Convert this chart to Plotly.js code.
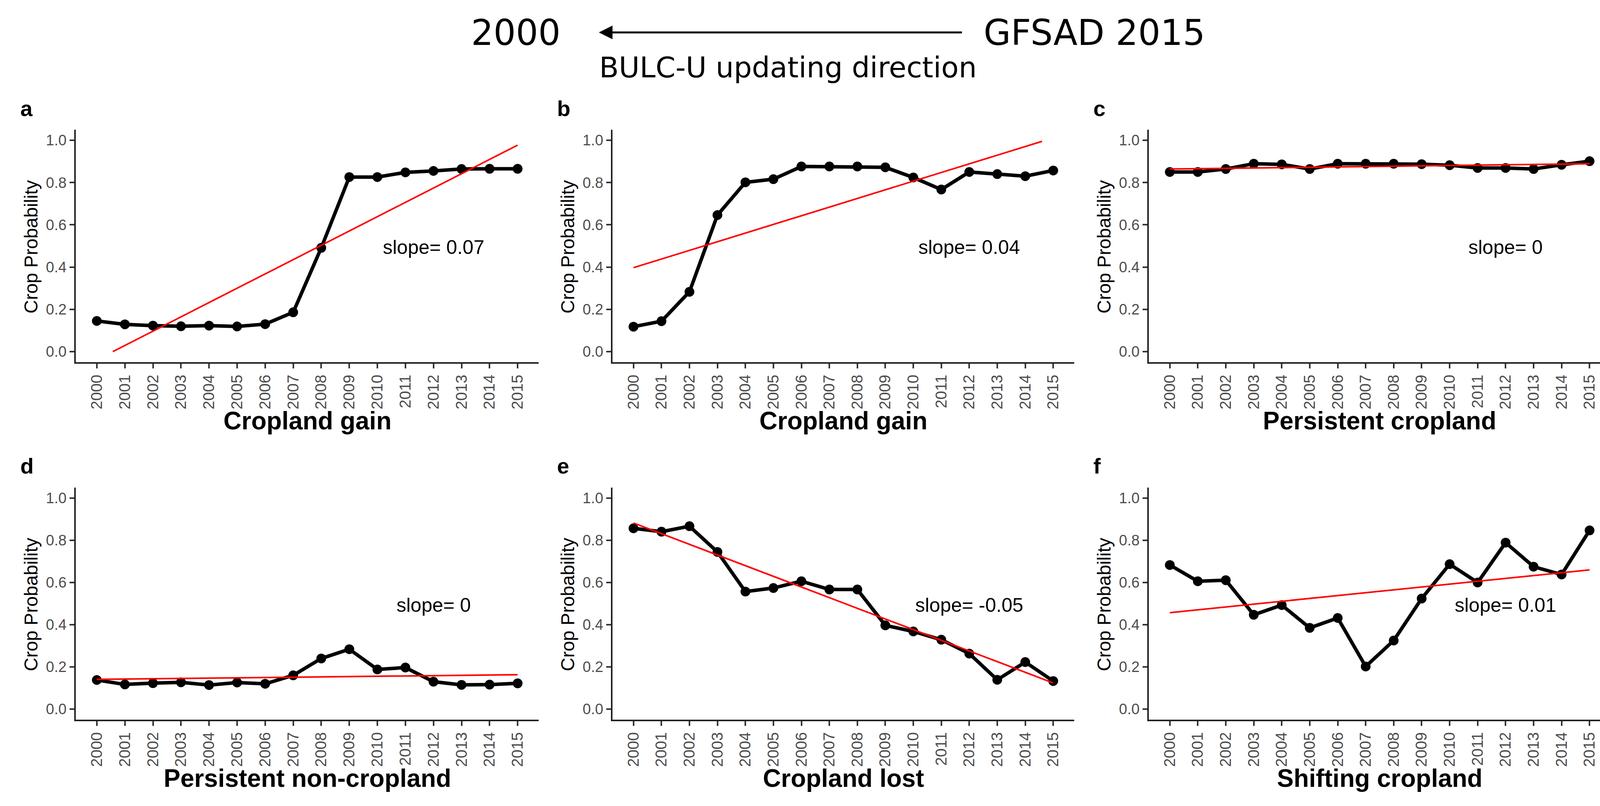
<!DOCTYPE html>
<html>
<head>
<meta charset="utf-8">
<script src="https://cdn.plot.ly/plotly-3.0.1.min.js"></script>
<style>html,body{margin:0;padding:0;background:#fff;}#chart{width:4161px;height:2063px;}</style>
</head>
<body>
<div id="chart"></div>
<script>
// ---------- data ----------
const years = [2000, 2001, 2002, 2003, 2004, 2005, 2006, 2007, 2008, 2009, 2010, 2011, 2012, 2013, 2014, 2015];
const yearLabels = ["2000","2001","2002","2003","2004","2005","2006","2007","2008","2009","2010","2011","2012","2013","2014","2015"];

const gainA      = [0.145, 0.129, 0.123, 0.120, 0.123, 0.119, 0.130, 0.186, 0.491, 0.826, 0.826, 0.848, 0.855, 0.864, 0.865, 0.865];
const gainB      = [0.118, 0.144, 0.283, 0.646, 0.801, 0.816, 0.876, 0.876, 0.876, 0.872, 0.824, 0.767, 0.850, 0.840, 0.830, 0.857];
const persistent = [0.850, 0.850, 0.864, 0.889, 0.886, 0.864, 0.889, 0.889, 0.889, 0.887, 0.882, 0.869, 0.869, 0.864, 0.884, 0.901];
const nonCrop    = [0.138, 0.117, 0.123, 0.127, 0.114, 0.126, 0.120, 0.160, 0.240, 0.284, 0.188, 0.197, 0.130, 0.115, 0.116, 0.122];
const lost       = [0.857, 0.841, 0.867, 0.745, 0.557, 0.574, 0.606, 0.567, 0.567, 0.397, 0.368, 0.329, 0.263, 0.139, 0.223, 0.133];
const shifting   = [0.683, 0.606, 0.611, 0.447, 0.493, 0.385, 0.432, 0.202, 0.325, 0.524, 0.687, 0.600, 0.789, 0.675, 0.638, 0.847];

// fitted trend line end points (as drawn, clipped to 0..1)
const fitAx = [2000.57, 2015];  const fitAy = [0.0, 0.977];
const fitBx = [2000, 2014.6];   const fitBy = [0.397, 0.995];
const fitCx = [2000, 2015];     const fitCy = [0.864, 0.889];
const fitDx = [2000, 2015];     const fitDy = [0.141, 0.163];
const fitEx = [2000, 2015];     const fitEy = [0.882, 0.124];
const fitFx = [2000, 2015];     const fitFy = [0.457, 0.660];

const panelLetters = ["a", "b", "c", "d", "e", "f"];
const panelTitles  = ["Cropland gain", "Cropland gain", "Persistent cropland", "Persistent non-cropland", "Cropland lost", "Shifting cropland"];
const slopeLabels  = ["slope= 0.07", "slope= 0.04", "slope= 0", "slope= 0", "slope= -0.05", "slope= 0.01"];
const yTickVals = [0, 0.2, 0.4, 0.6, 0.8, 1.0];
const yTickText = ["0.0", "0.2", "0.4", "0.6", "0.8", "1.0"];

// ---------- layout geometry (pixels) ----------
const W = 4161, H = 2063;
const cols = [[194, 1379], [1568, 2750], [2941, 4123]];
const rows = [[332, 927], [1248, 1842]];
const px = v => v / W;
const py = v => 1 - v / H;

const series = [gainA, gainB, persistent, nonCrop, lost, shifting];
const fitsX = [fitAx, fitBx, fitCx, fitDx, fitEx, fitFx];
const fitsY = [fitAy, fitBy, fitCy, fitDy, fitEy, fitFy];

const FONT = "Liberation Sans, Arial, Helvetica, sans-serif";
const traces = [];
const layout = {
  width: W, height: H,
  margin: {l: 0, r: 0, t: 0, b: 0},
  paper_bgcolor: "#ffffff", plot_bgcolor: "#ffffff",
  showlegend: false,
  font: {family: FONT},
  annotations: []
};

for (let i = 0; i < 6; i++) {
  const r = Math.floor(i / 3), c = i % 3;
  const suf = i === 0 ? "" : String(i + 1);
  const xa = "x" + suf, ya = "y" + suf;
  traces.push({
    x: years, y: series[i], xaxis: xa, yaxis: ya,
    type: "scatter", mode: "lines+markers",
    line: {color: "#000000", width: 9},
    marker: {color: "#000000", size: 25},
    hoverinfo: "skip"
  });
  traces.push({
    x: fitsX[i], y: fitsY[i], xaxis: xa, yaxis: ya,
    type: "scatter", mode: "lines",
    line: {color: "#FF0000", width: 4},
    hoverinfo: "skip"
  });
  layout["xaxis" + suf] = {
    domain: [px(cols[c][0]), px(cols[c][1])],
    anchor: ya, range: [1999.25, 2015.75],
    tickmode: "array", tickvals: years, ticktext: yearLabels, tickangle: -90,
    tickfont: {family: FONT, size: 40, color: "#4D4D4D"},
    ticks: "outside", ticklen: 12, tickwidth: 4, tickcolor: "#333333",
    showline: true, linewidth: 4, linecolor: "#222222",
    showgrid: false, zeroline: false, fixedrange: true
  };
  layout["yaxis" + suf] = {
    domain: [py(rows[r][1]), py(rows[r][0])],
    anchor: xa, range: [-0.05, 1.05],
    tickmode: "array", tickvals: yTickVals, ticktext: yTickText,
    tickfont: {family: FONT, size: 38, color: "#4D4D4D"},
    ticks: "outside", ticklen: 12, tickwidth: 4, tickcolor: "#333333",
    showline: true, linewidth: 4, linecolor: "#222222",
    showgrid: false, zeroline: false, fixedrange: true
  };
  // slope label
  layout.annotations.push({
    xref: xa, yref: ya, x: 2012, y: 0.493, text: slopeLabels[i],
    showarrow: false, xanchor: "center", yanchor: "middle",
    font: {family: FONT, size: 50, color: "#000000"}
  });
  // panel letter
  const base = r === 0 ? 297 : 1212;
  layout.annotations.push({
    xref: "paper", yref: "paper", x: px(cols[c][0] - 144), y: py(base - 20),
    text: "<b>" + panelLetters[i] + "</b>", showarrow: false,
    xanchor: "left", yanchor: "middle",
    font: {family: FONT, size: 56, color: "#000000"}
  });
  // y title
  layout.annotations.push({
    xref: "paper", yref: "paper", x: px(cols[c][0] - 115),
    y: py((rows[r][0] + rows[r][1]) / 2 + 3),
    text: "Crop Probability", textangle: -90, showarrow: false,
    xanchor: "center", yanchor: "middle",
    font: {family: FONT, size: 48, color: "#000000"}
  });
  // x title
  layout.annotations.push({
    xref: "paper", yref: "paper", x: px((cols[c][0] + cols[c][1]) / 2),
    y: py(rows[r][1] + 150),
    text: "<b>" + panelTitles[i] + "</b>", showarrow: false,
    xanchor: "center", yanchor: "middle",
    font: {family: FONT, size: 64, color: "#000000"}
  });
}

// header
const HFONT = "DejaVu Sans, Verdana, sans-serif";
layout.annotations.push({
  xref: "paper", yref: "paper", x: px(1320), y: py(84), text: "2000",
  showarrow: false, xanchor: "center", yanchor: "middle",
  font: {family: HFONT, size: 90, color: "#000000"}
});
layout.annotations.push({
  xref: "paper", yref: "paper", x: px(2801), y: py(84), text: "GFSAD 2015",
  showarrow: false, xanchor: "center", yanchor: "middle",
  font: {family: HFONT, size: 90, color: "#000000"}
});
layout.annotations.push({
  xref: "paper", yref: "paper", x: px(2017), y: py(173), text: "BULC-U updating direction",
  showarrow: false, xanchor: "center", yanchor: "middle",
  font: {family: HFONT, size: 73, color: "#000000"}
});
layout.annotations.push({
  xref: "paper", yref: "paper", x: px(1533), y: py(83), text: "",
  showarrow: true, axref: "pixel", ayref: "pixel", ax: 931, ay: 0,
  arrowhead: 2, arrowsize: 1.4, arrowwidth: 5, arrowcolor: "#000000", standoff: 0
});

Plotly.newPlot("chart", traces, layout, {displayModeBar: false, staticPlot: true});
</script>
</body>
</html>
